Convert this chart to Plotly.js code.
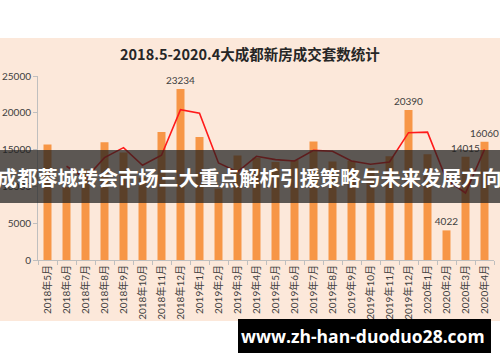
<!DOCTYPE html>
<html>
<head>
<meta charset="utf-8">
<script src="https://cdn.plot.ly/plotly-3.0.1.min.js"></script>
<style>html,body{margin:0;padding:0;background:#fff;}#chart{width:500px;height:362px;}</style>
</head>
<body>
<div id="chart"></div>
<script>
const months = ["2018年5月","2018年6月","2018年7月","2018年8月","2018年9月","2018年10月","2018年11月","2018年12月",
  "2019年1月","2019年2月","2019年3月","2019年4月","2019年5月","2019年6月","2019年7月","2019年8月",
  "2019年9月","2019年10月","2019年11月","2019年12月","2020年1月","2020年2月","2020年3月","2020年4月"];
const sales = [15700, 9900, 12300, 16000, 14600, 11200, 17400, 23234,
  16700, 9700, 14200, 13900, 13300, 13600, 16100, 13400,
  13500, 12500, 14100, 20390, 14370, 4022, 14015, 16060];
const barLabels = ["","","","","","","","23234","","","","","","","","","","","","20390","","4022","14015","16060"];
const lineMonths = months.slice(1);
const trend = [12740, 11070, 13910, 15270, 12870, 14230, 20420, 19960,
  13190, 11970, 14090, 13640, 13460, 14900, 14770, 13450,
  13010, 13320, 17300, 17380, 10900, 9100, 15040];
const yTicks = [0, 5000, 10000, 15000, 20000, 25000];
const chartTitle = "2018.5-2020.4大成都新房成交套数统计";
const bannerText = "成都蓉城转会市场三大重点解析引援策略与未来发展方向";
const watermark = "www.zh-han-duoduo28.com";

const FONT = "Lato, 'Noto Sans CJK SC', sans-serif";
const CJK = "'Noto Sans CJK SC', sans-serif";

const traces = [
  {type:"bar", x:months, y:sales, marker:{color:"#F79646"},
   text:barLabels, textposition:"outside", constraintext:"none", cliponaxis:false,
   textfont:{size:10, color:"#404040", family:FONT}, hoverinfo:"none"},
  {type:"scatter", mode:"lines", x:lineMonths, y:trend,
   line:{color:"#FF1A1A", width:1.6}, hoverinfo:"none"}
];

const layout = {
  width:500, height:362,
  margin:{l:38, r:6, t:76, b:102, pad:0},
  paper_bgcolor:"#ffffff", plot_bgcolor:"rgba(0,0,0,0)",
  showlegend:false, bargap:0.58,
  font:{family:FONT, size:10, color:"#404040"},
  xaxis:{type:"category", showline:true, linecolor:"#BFBFBF", linewidth:1,
    ticks:"outside", ticklen:4, tickcolor:"#BFBFBF", tickson:"boundaries",
    tickangle:-90, tickfont:{size:10, color:"#404040", family:FONT},
    showgrid:false, zeroline:false, fixedrange:true},
  yaxis:{range:[0,25000], tickvals:yTicks, ticktext:yTicks.map(String),
    showline:true, linecolor:"#BFBFBF", linewidth:1,
    ticks:"outside", ticklen:4, tickcolor:"#BFBFBF",
    tickfont:{size:10, color:"#404040", family:FONT},
    showgrid:false, zeroline:false, fixedrange:true},
  shapes:[
    {type:"rect", xref:"paper", yref:"paper", x0:-0.0834, x1:1.0132, y0:-0.3315, y1:1.2065,
     fillcolor:"#FCE8DA", line:{width:0}, layer:"below"},
    {type:"rect", xref:"paper", yref:"paper", x0:-0.0834, x1:1.0132, y0:0.3098, y1:0.5978,
     fillcolor:"rgba(30,30,30,0.72)", line:{width:0}, layer:"above"},
    {type:"rect", xref:"paper", yref:"paper", x0:0.4386, x1:0.9934, y0:-0.5054, y1:-0.3207,
     fillcolor:"#000000", line:{width:0}, layer:"above"}
  ],
  annotations:[
    {xref:"paper", yref:"paper", x:0.4649, y:1.125, xanchor:"center", yanchor:"middle",
     text:"<b>"+chartTitle+"</b>", showarrow:false, font:{size:14.5, color:"#262626", family:CJK}},
    {xref:"paper", yref:"paper", x:0.4649, y:0.451, xanchor:"center", yanchor:"middle",
     text:"<b>"+bannerText+"</b>", showarrow:false, font:{size:20.2, color:"#ffffff", family:CJK}},
    {xref:"paper", yref:"paper", x:0.7127, y:-0.413, xanchor:"center", yanchor:"middle",
     text:"<b>"+watermark+"</b>", showarrow:false, font:{size:17.5, color:"#ffffff", family:"'Open Sans', 'Noto Sans', sans-serif"}}
  ]
};

Plotly.newPlot("chart", traces, layout, {displayModeBar:false, staticPlot:true});
</script>
</body>
</html>
